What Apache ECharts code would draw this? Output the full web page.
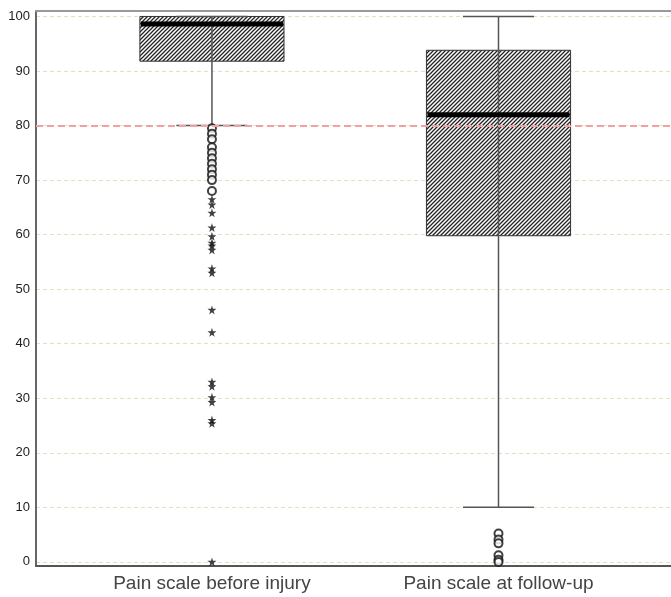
<!DOCTYPE html>
<html>
<head>
<meta charset="utf-8">
<script src="https://cdn.jsdelivr.net/npm/echarts@6/dist/echarts.min.js"></script>
<style>
html,body{margin:0;padding:0;background:#fff;}
#chart{width:671px;height:597px;}
</style>
</head>
<body>
<div id="chart"></div>
<script>
// ---- data ----
const categories = ['Pain scale before injury', 'Pain scale at follow-up'];
const whiskerLow = [80, 10];
const q1 = [91.8, 59.8];
const median = [98.6, 82.0];
const q3 = [100, 93.8];
const whiskerHigh = [100, 100];
const mildOutliersBefore = [79.5, 78.5, 77.5, 76, 75, 74, 73, 72, 71, 70, 68];
const extremeOutliersBefore = [66.5, 65.5, 64, 61.3, 59.7, 58.5, 58, 57.2, 53.8, 53, 46.2, 42.1, 33, 32.2, 30.2, 29.3, 26, 25.4, 0];
const mildOutliersAfter = [5.2, 4.1, 3.4, 1.2, 0.4, 0];
const yTicks = [0, 10, 20, 30, 40, 50, 60, 70, 80, 90, 100];
const referenceLine = 80;

// ---- hatch pattern ----
const pat = document.createElement('canvas');
pat.width = 4; pat.height = 4;
const pctx = pat.getContext('2d');
pctx.fillStyle = '#fff';
pctx.fillRect(0, 0, 4, 4);
pctx.strokeStyle = '#222';
pctx.lineWidth = 1.3;
pctx.beginPath();
pctx.moveTo(0, 4); pctx.lineTo(4, 0);
pctx.moveTo(-2, 2); pctx.lineTo(2, -2);
pctx.moveTo(2, 6); pctx.lineTo(6, 2);
pctx.stroke();

const BOX_HALF = 0.2515;
const CAP_HALF = 0.124;

const boxData = categories.map((c, i) => [i + 1, whiskerLow[i], q1[i], median[i], q3[i], whiskerHigh[i]]);
const mildData = mildOutliersBefore.map(v => [1, v]).concat(mildOutliersAfter.map(v => [2, v]));
const extremeData = extremeOutliersBefore.map(v => [1, v]);

const starPath = 'path://M50,0 L61,35 L98,35 L68,57 L79,91 L50,70 L21,91 L32,57 L2,35 L39,35 Z';

const chart = echarts.init(document.getElementById('chart'), null, {renderer: 'canvas'});
chart.setOption({
  animation: false,
  backgroundColor: '#fff',
  grid: {left: 36, right: 0, top: 11, bottom: 31, containLabel: false},
  xAxis: [{
    type: 'value', min: 0.386, max: 2.602, position: 'bottom',
    axisLine: {show: true, onZero: false, lineStyle: {color: '#555', width: 2}},
    axisTick: {show: false},
    splitLine: {show: false},
    axisLabel: {
      customValues: [1, 2],
      formatter: v => categories[Math.round(v) - 1] || '',
      fontSize: 19, color: '#444', margin: 8, fontFamily: 'Liberation Sans, Arial, sans-serif'
    }
  }, {
    type: 'value', min: 0.386, max: 2.602, position: 'top',
    axisLine: {show: true, onZero: false, lineStyle: {color: '#999', width: 2}},
    axisTick: {show: false}, axisLabel: {show: false}, splitLine: {show: false}
  }],
  yAxis: {
    type: 'value', min: -0.75, max: 101,
    axisLine: {show: true, onZero: false, lineStyle: {color: '#666', width: 2}},
    axisTick: {show: false, customValues: yTicks},
    axisLabel: {customValues: yTicks, fontSize: 13, color: '#222', margin: 6, fontFamily: 'Liberation Sans, Arial, sans-serif'},
    splitLine: {show: true, lineStyle: {color: '#e8dfbf', type: [4, 3], width: 1}}
  },
  series: [{
    type: 'custom',
    data: boxData,
    encode: {x: 0, y: [1, 2, 3, 4, 5]},
    renderItem: function (params, api) {
      const x = api.value(0);
      const low = api.coord([x, api.value(1)]);
      const pq1 = api.coord([x, api.value(2)]);
      const pmed = api.coord([x, api.value(3)]);
      const pq3 = api.coord([x, api.value(4)]);
      const high = api.coord([x, api.value(5)]);
      const half = api.size([BOX_HALF, 0])[0];
      const cap = api.size([CAP_HALF, 0])[0];
      const cx = low[0];
      return {
        type: 'group',
        children: [
          {type: 'rect', shape: {x: cx - half, y: pq3[1], width: half * 2, height: pq1[1] - pq3[1]},
           style: {fill: {image: pat, repeat: 'repeat'}, stroke: '#333', lineWidth: 1}},
          {type: 'line', shape: {x1: cx, y1: low[1], x2: cx, y2: high[1]}, style: {stroke: '#555', lineWidth: 1.5}},
          {type: 'line', shape: {x1: cx - cap, y1: low[1], x2: cx + cap, y2: low[1]}, style: {stroke: '#555', lineWidth: 1.5}},
          {type: 'line', shape: {x1: cx - cap, y1: high[1], x2: cx + cap, y2: high[1]}, style: {stroke: '#555', lineWidth: 1.5}},
          {type: 'line', shape: {x1: cx - half + 1, y1: pmed[1], x2: cx + half - 1, y2: pmed[1]}, style: {stroke: '#000', lineWidth: 5}}
        ]
      };
    },
    markLine: {
      silent: true, symbol: 'none', label: {show: false},
      lineStyle: {color: '#f3a0a0', type: [7, 4], width: 2},
      data: [{yAxis: referenceLine}],
      z: 10
    },
    z: 2
  }, {
    type: 'scatter',
    data: mildData,
    symbol: 'emptyCircle',
    symbolSize: 8,
    itemStyle: {color: '#111', borderWidth: 1.5},
    z: 5
  }, {
    type: 'scatter',
    data: extremeData,
    symbol: starPath,
    symbolSize: 9,
    itemStyle: {color: '#111'},
    z: 5
  }]
});
</script>
</body>
</html>
